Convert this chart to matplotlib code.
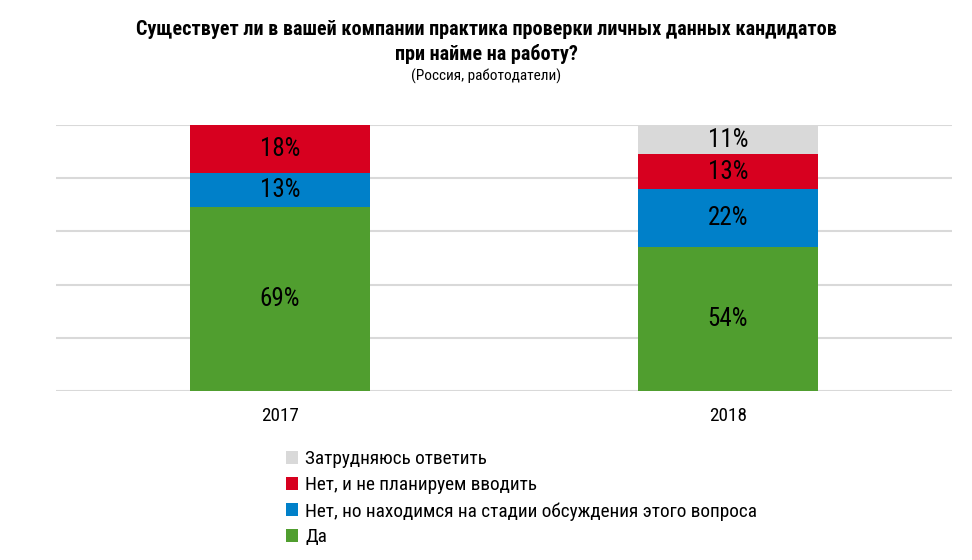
import matplotlib.pyplot as plt
import numpy as np

years = ['2017', '2018']
series = ['Да',
          'Нет, но находимся на стадии обсуждения этого вопроса',
          'Нет, и не планируем вводить',
          'Затрудняюсь ответить']
da = [69, 54]
net_obsuzhdenie = [13, 22]
net_ne_planiruem = [18, 13]
zatrudnyayus = [0, 11]
colors = ['#509E2F', '#0080C9', '#D7001F', '#D9D9D9']

plt.rcParams['font.family'] = ['Roboto Condensed', 'Roboto', 'DejaVu Sans']

fig = plt.figure(figsize=(9.72, 5.6), dpi=100)
ax = fig.add_axes([0.0576, 0.3018, 0.9218, 0.475])

x = np.arange(len(years))
bottom = np.zeros(len(years))
handles = []
for vals, name, c in zip([da, net_obsuzhdenie, net_ne_planiruem, zatrudnyayus], series, colors):
    vals = np.array(vals)
    b = ax.bar(x, vals, bottom=bottom, width=0.4, color=c, label=name, zorder=2)
    handles.append(b)
    for xi, v, bt in zip(x, vals, bottom):
        if v > 0:
            ax.text(xi, bt + v / 2, f'{v}%', ha='center', va='center',
                    fontsize=18, color='black', zorder=3)
    bottom += vals

ax.set_xlim(-0.5, 1.5)
ax.set_ylim(0, 100)
ax.set_yticks(range(0, 101, 20))
ax.yaxis.grid(True, color='#D9D9D9', linewidth=1.5, zorder=0)
ax.tick_params(axis='y', left=False, labelleft=False)
ax.tick_params(axis='x', bottom=False, labelsize=13.8, pad=8)
ax.set_xticks(x)
ax.set_xticklabels(years)
for s in ax.spines.values():
    s.set_visible(False)

fig.text(0.5, 0.948, 'Существует ли в вашей компании практика проверки личных данных кандидатов',
         ha='center', va='center', fontsize=14.5, fontweight='bold')
fig.text(0.5, 0.903, 'при найме на работу?',
         ha='center', va='center', fontsize=14.5, fontweight='bold')
fig.text(0.5, 0.863, '(Россия, работодатели)',
         ha='center', va='center', fontsize=11)

fig.legend(handles[::-1], series[::-1], loc='upper left',
           bbox_to_anchor=(0.294, 0.196), frameon=False, fontsize=13.9,
           handlelength=0.65, handleheight=0.65, handletextpad=0.35,
           labelspacing=0.41, borderaxespad=0, borderpad=0)

plt.savefig('out.png', dpi=100)
